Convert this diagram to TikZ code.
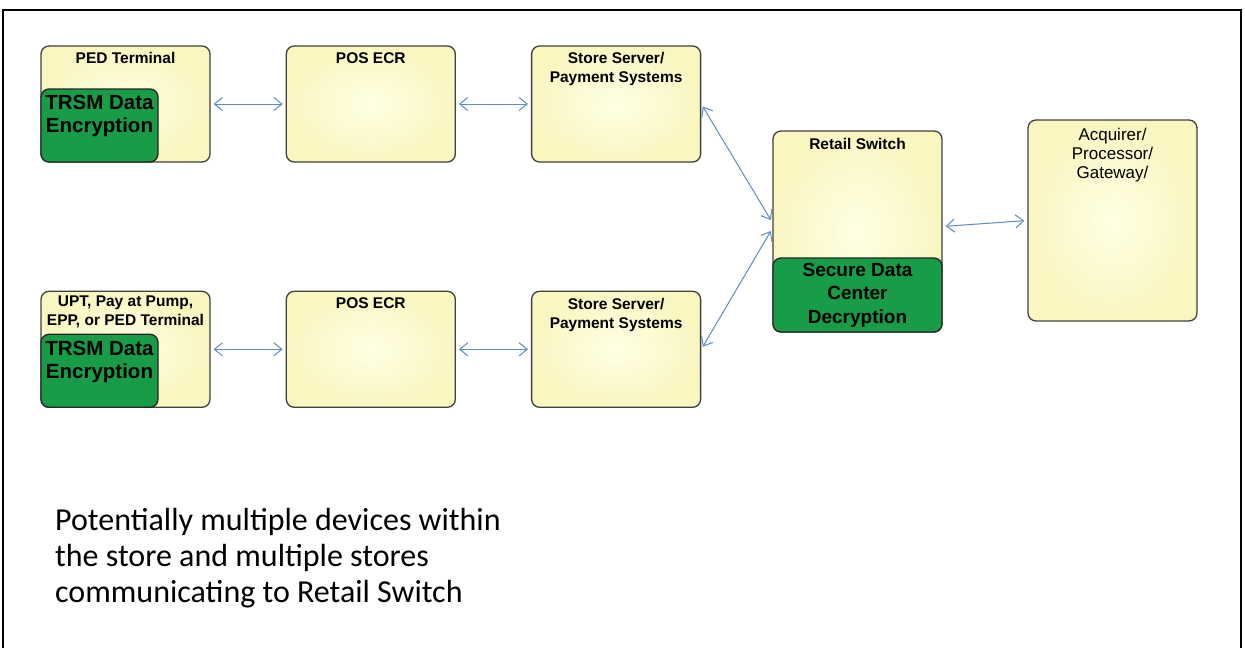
\documentclass[tikz,border=0pt]{standalone}
\usepackage{fontspec}
\setmainfont{Liberation Sans}
\newfontfamily\notefont{Carlito}
\usetikzlibrary{arrows.meta}
\usetikzlibrary{positioning}

\definecolor{boxfill}{RGB}{255,255,228}
\definecolor{boxedge}{RGB}{249,246,192}
\definecolor{tamper}{RGB}{24,156,72}
\definecolor{linkblue}{RGB}{92,138,196}

\tikzstyle{device} = [rectangle, rounded corners=8pt, minimum width=169pt, minimum height=116pt, draw=black!75, line width=1.3pt, inner color=boxfill, outer color=boxedge]
\tikzstyle{hub} = [device, minimum height=201pt]
\tikzstyle{boxtitle} = [align=center, font=\fontsize{15.5}{19}\selectfont\bfseries, inner sep=0pt]
\tikzstyle{crypto} = [rectangle, rounded corners=8pt, draw=black!85, line width=1.3pt, fill=tamper]
\tikzstyle{cryptotext} = [align=center, font=\fontsize{20.5}{23}\selectfont\bfseries, inner sep=0pt]
\tikzstyle{link} = [draw=linkblue, line width=1pt, {Straight Barb[length=8pt,width=13pt]}-{Straight Barb[length=8pt,width=13pt]}, shorten <=3pt, shorten >=3pt]

\begin{document}
\begin{tikzpicture}[x=1pt, y=-1pt, node distance=75pt]

    \useasboundingbox (0,0) rectangle (1245,648);
    \draw [line width=2.5pt] (3,648) -- (3,10) -- (1241,10) -- (1241,648);

    % first store lane
    \node (ped1) [device] at (125.5,104) {};
    \node (ecr1) [device, right=of ped1] {};
    \node (srv1) [device, right=of ecr1] {};

    % second store lane
    \node (ped2) [device, below=128pt of ped1] {};
    \node (ecr2) [device, right=of ped2] {};
    \node (srv2) [device, right=of ecr2] {};

    \node (switch) [hub] at (857.5,231.5) {};
    \node (acq) [hub] at (1112.5,220.5) {};

    \node (ped1title) [boxtitle, below=7pt of ped1.north] {PED Terminal};
    \node (ecr1title) [boxtitle, below=7pt of ecr1.north] {POS ECR};
    \node (srv1title) [boxtitle, below=7pt of srv1.north] {Store Server/\\Payment Systems};
    \node (ped2title) [boxtitle, below=5pt of ped2.north] {UPT, Pay at Pump,\\EPP, or PED Terminal};
    \node (ecr2title) [boxtitle, below=7pt of ecr2.north] {POS ECR};
    \node (srv2title) [boxtitle, below=7pt of srv2.north] {Store Server/\\Payment Systems};
    \node (switchtitle) [boxtitle, below=8pt of switch.north] {Retail Switch};
    \node (acqtitle) [boxtitle, below=9pt of acq.north, font=\fontsize{17}{19}\selectfont] {Acquirer/\\Processor/\\Gateway/};

    % encryption in the terminals
    \node (ped1enc) [crypto, anchor=south west, minimum width=117pt, minimum height=73pt] at (ped1.south west) {};
    \node (ped1enctext) [cryptotext, below=7pt of ped1enc.north] {TRSM Data\\Encryption};
    \node (ped2enc) [crypto, anchor=south west, minimum width=117pt, minimum height=73pt] at (ped2.south west) {};
    \node (ped2enctext) [cryptotext, below=7pt of ped2enc.north] {TRSM Data\\Encryption};

    % decryption at the switch
    \node (switchdec) [crypto, cryptotext, anchor=south, minimum width=169pt, minimum height=74pt, font=\fontsize{19}{23.5}\selectfont\bfseries] at (switch.south) {Secure Data\\Center\\Decryption};

    \draw [link] (ped1) -- (ecr1);
    \draw [link] (ecr1) -- (srv1);
    \draw [link] (ped2) -- (ecr2);
    \draw [link] (ecr2) -- (srv2);
    \draw [link] (srv1.east) -- ([yshift=9pt]switch.west);
    \draw [link] (srv2.east) -- ([yshift=3pt]switch.west);
    \draw [link] ([yshift=5pt]switch.east) -- (acq.west);

    \node (note) [anchor=north west, align=left, inner sep=0pt, font=\notefont\fontsize{32}{36}\selectfont] at (55,508) {Potentially multiple devices within\\the store and multiple stores\\communicating to Retail Switch};

\end{tikzpicture}
\end{document}
